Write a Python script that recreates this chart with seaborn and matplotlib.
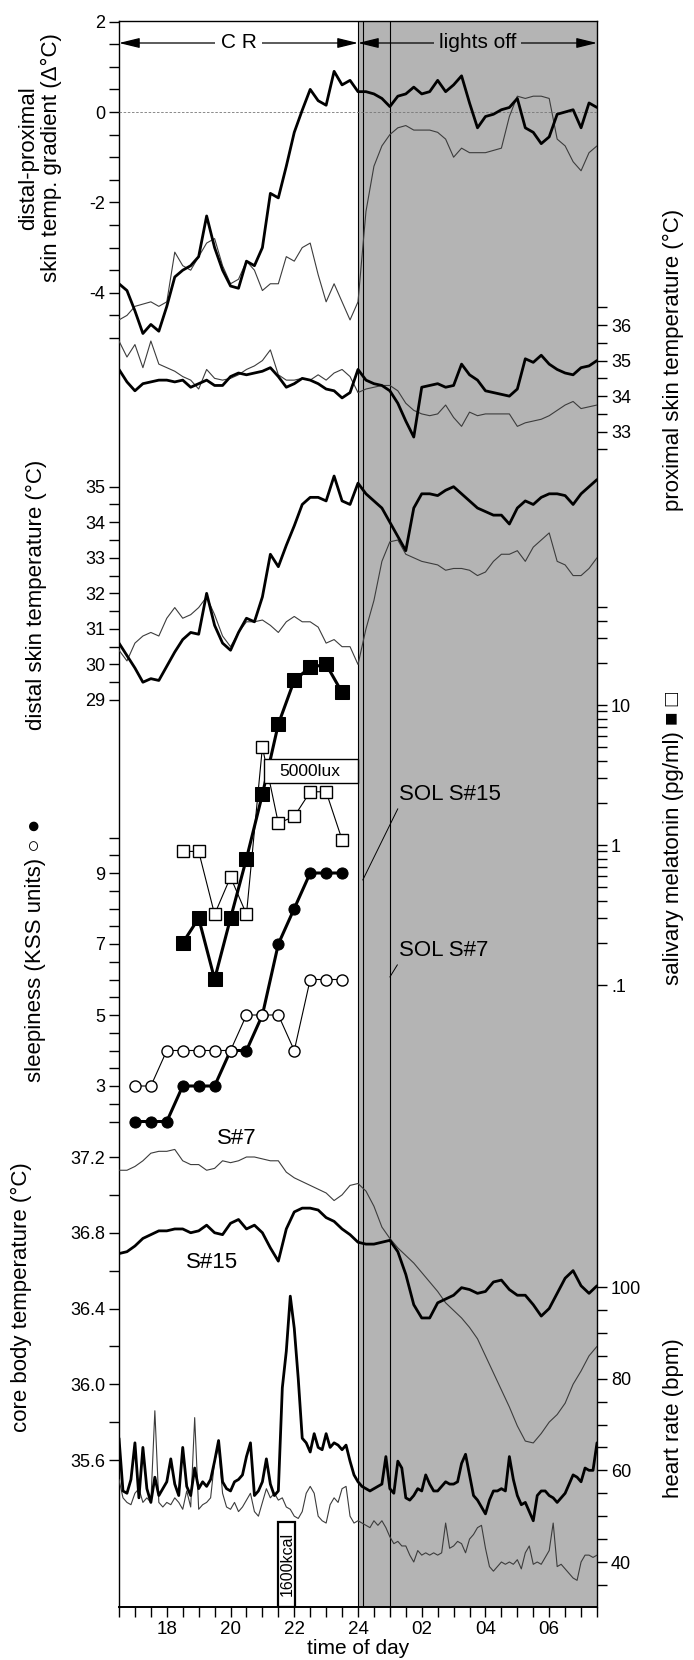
import numpy as np
import matplotlib
matplotlib.use("Agg")
import matplotlib.pyplot as plt
import seaborn as sns
from matplotlib import font_manager
from matplotlib.patches import Rectangle
from matplotlib.ticker import NullFormatter

# ---------------------------------------------------------------- data
# sampling grids (hours after midnight of day 1; 24 = midnight, 30 = 06:00)
hours = np.arange(61) * 0.25 + 16.5
hours_hr = np.arange(121) * 0.125 + 16.5

tick_hours = [18, 20, 22, 24, 26, 28, 30]
tick_labels = ["18", "20", "22", "24", "02", "04", "06"]

# distal-proximal skin temperature gradient (delta degC)
grad_s15 = [-3.8, -3.95,
            -4.4, -4.9, -4.7, -4.85,
            -4.3, -3.65, -3.5, -3.4,
            -3.2, -2.3, -3.0, -3.5,
            -3.85, -3.9, -3.3, -3.4,
            -3.0, -1.8, -1.9, -1.2,
            -0.45, 0.04, 0.5, 0.25,
            0.15, 0.9, 0.6, 0.7,
            0.45, 0.45, 0.4, 0.3,
            0.12, 0.35, 0.4, 0.55,
            0.4, 0.45, 0.7, 0.45,
            0.6, 0.8, 0.2, -0.35,
            -0.1, -0.05, 0.05, 0.1,
            0.3, -0.35, -0.45, -0.7,
            -0.55, -0.05, 0.0, 0.05,
            -0.35, 0.2, 0.1]
grad_s7 = [-4.6, -4.5,
           -4.3, -4.25, -4.2, -4.3,
           -4.2, -3.1, -3.4, -3.5,
           -3.2, -2.9, -2.8, -3.4,
           -3.8, -3.7, -3.3, -3.5,
           -3.95, -3.8, -3.8, -3.2,
           -3.3, -3.0, -2.9, -3.6,
           -4.2, -3.8, -4.2, -4.6,
           -4.2, -2.2, -1.2, -0.75,
           -0.5, -0.35, -0.3, -0.4,
           -0.4, -0.4, -0.45, -0.6,
           -1.0, -0.8, -0.9, -0.9,
           -0.9, -0.85, -0.8, -0.1,
           0.35, 0.3, 0.35, 0.35,
           0.3, -0.6, -0.75, -1.1,
           -1.3, -0.9, -0.75]

# proximal skin temperature (degC)
prox_s15 = [34.75, 34.4,
            34.15, 34.35, 34.4, 34.45,
            34.45, 34.4, 34.45, 34.25,
            34.35, 34.45, 34.3, 34.3,
            34.55, 34.65, 34.6, 34.65,
            34.7, 34.8, 34.55, 34.25,
            34.35, 34.5, 34.45, 34.35,
            34.2, 34.15, 33.95, 34.1,
            34.75, 34.45, 34.35, 34.3,
            34.15, 33.8, 33.3, 32.85,
            34.25, 34.3, 34.35, 34.25,
            34.3, 34.9, 34.6, 34.45,
            34.15, 34.1, 34.05, 34.0,
            34.2, 35.05, 34.95, 35.15,
            34.9, 34.75, 34.65, 34.6,
            34.8, 34.85, 35.0]
prox_s7 = [35.55, 35.1,
           35.45, 34.8, 35.55, 34.9,
           34.8, 34.7, 34.55, 34.45,
           34.2, 34.75, 34.5, 34.45,
           34.5, 34.6, 34.75, 34.85,
           35.0, 35.3, 34.6, 34.45,
           34.45, 34.5, 34.45, 34.6,
           34.45, 34.65, 34.75, 34.55,
           34.1, 34.2, 34.25, 34.3,
           34.3, 34.15, 33.8, 33.6,
           33.5, 33.45, 33.5, 33.75,
           33.4, 33.15, 33.55, 33.45,
           33.5, 33.5, 33.5, 33.5,
           33.15, 33.25, 33.3, 33.35,
           33.45, 33.6, 33.75, 33.85,
           33.65, 33.7, 33.75]

# distal skin temperature (degC)
distal_s15 = [30.6, 30.25,
              29.9, 29.5, 29.6, 29.55,
              29.95, 30.35, 30.7, 30.9,
              30.85, 32.0, 31.1, 30.6,
              30.4, 30.9, 31.3, 31.2,
              31.9, 33.1, 32.75, 33.35,
              33.9, 34.5, 34.7, 34.7,
              34.6, 35.3, 34.6, 34.5,
              35.1, 34.8, 34.6, 34.4,
              34.0, 33.6, 33.2, 34.4,
              34.8, 34.8, 34.75, 34.9,
              35.0, 34.8, 34.6, 34.4,
              34.3, 34.2, 34.2, 33.95,
              34.4, 34.6, 34.5, 34.7,
              34.8, 34.8, 34.75, 34.5,
              34.8, 35.0, 35.2]
distal_s7 = [30.4, 30.1,
             30.6, 30.8, 30.9, 30.8,
             31.3, 31.6, 31.3, 31.4,
             31.6, 31.9, 31.4, 30.8,
             30.5, 30.9, 31.2, 31.2,
             31.25, 31.1, 30.9, 31.2,
             31.35, 31.2, 31.2, 31.05,
             30.6, 30.7, 30.5, 30.5,
             30.0, 31.0, 31.8, 32.9,
             33.45, 33.5, 33.1, 33.0,
             32.9, 32.85, 32.8, 32.65,
             32.7, 32.7, 32.65, 32.5,
             32.6, 32.9, 33.1, 33.1,
             33.2, 32.9, 33.3, 33.5,
             33.7, 32.9, 32.8, 32.5,
             32.5, 32.7, 33.0]

# salivary melatonin (pg/ml)
mel_times = [18.5, 19.0, 19.5, 20.0, 20.5, 21.0, 21.5, 22.0, 22.5, 23.0, 23.5]
mel_s15 = [0.2, 0.3, 0.11, 0.3, 0.8, 2.3, 7.3, 15.0, 18.6, 19.5, 12.3]
mel_s7 = [0.9, 0.9, 0.32, 0.59, 0.32, 5.0, 1.43, 1.6, 2.4, 2.4, 1.09]

# sleepiness (KSS units)
kss_times = [17.0, 17.5, 18.0, 18.5, 19.0, 19.5, 20.0, 20.5, 21.0, 21.5, 22.0, 22.5, 23.0, 23.5]
kss_s15 = [2, 2, 2, 3, 3, 3, 4, 4, 5, 7, 8, 9, 9, 9]
kss_s7 = [3, 3, 4, 4, 4, 4, 4, 5, 5, 5, 4, 6, 6, 6]

# core body temperature (degC)
core_s15 = [36.69, 36.7,
            36.73, 36.77, 36.79, 36.81,
            36.81, 36.82, 36.82, 36.8,
            36.81, 36.84, 36.8, 36.79,
            36.85, 36.87, 36.82, 36.84,
            36.8, 36.72, 36.65, 36.82,
            36.91, 36.93, 36.93, 36.92,
            36.88, 36.86, 36.82, 36.79,
            36.75, 36.74, 36.74, 36.75,
            36.76, 36.7, 36.58, 36.42,
            36.35, 36.35, 36.43, 36.45,
            36.47, 36.51, 36.5, 36.48,
            36.49, 36.54, 36.55, 36.5,
            36.47, 36.47, 36.42, 36.36,
            36.4, 36.48, 36.56, 36.6,
            36.52, 36.48, 36.52]
core_s7 = [37.13, 37.13,
           37.15, 37.18, 37.22, 37.23,
           37.23, 37.24, 37.18, 37.16,
           37.16, 37.13, 37.14, 37.18,
           37.17, 37.18, 37.2, 37.2,
           37.19, 37.18, 37.18, 37.12,
           37.09, 37.07, 37.05, 37.03,
           37.01, 36.97, 37.0, 37.05,
           37.06, 37.02, 36.94, 36.83,
           36.77, 36.72, 36.68, 36.64,
           36.59, 36.54, 36.49, 36.43,
           36.39, 36.35, 36.3, 36.24,
           36.15, 36.06, 35.97, 35.88,
           35.78, 35.7, 35.69, 35.74,
           35.8, 35.84, 35.9, 36.0,
           36.07, 36.15, 36.2]

# heart rate (bpm), 7.5-min grid
hr_s15 = [67, 55.5, 55, 58, 66, 54, 65, 56, 53, 58.5,
          54.5, 56, 57.5, 62.5, 57, 54.5, 65, 56.5, 54.5, 60.5,
          56, 57.5, 56.5, 58, 62, 66.5, 57.5, 56, 55.5, 57.5,
          58, 59, 63, 66, 54.5, 55.5, 57.5, 62.5, 57, 54.5,
          55.5, 78, 86, 98, 91, 80, 67, 66, 64, 68,
          65, 64.5, 68, 65, 66, 65.5, 64.5, 65.5, 62, 59,
          57.5, 56.5, 56, 55.5, 56, 56.5, 57, 63, 56, 55,
          62, 60.5, 54, 53.5, 54.5, 56, 55.5, 59, 57, 55.5,
          55.5, 56.5, 57.5, 57, 57, 57.5, 61.5, 63.5, 59, 54.5,
          53.5, 52, 50.5, 53.5, 55.5, 55.5, 56, 55.5, 63, 58,
          54.5, 52.5, 53, 51, 49, 54.5, 55.5, 55.5, 54.5, 54,
          53, 54, 55, 57, 59, 58.5, 57.5, 60.5, 60, 60,
          66]
hr_s7 = [58, 54, 53, 52.5, 55, 56, 53, 54, 53, 73,
         53, 52, 53, 52.5, 54, 53, 51.5, 55.5, 52, 71.5,
         51.5, 52.5, 53, 54, 62, 65, 55, 52, 51.5, 53,
         51, 52, 53.5, 55, 51, 50, 53, 56, 54, 55,
         53.5, 54, 52, 51.5, 50, 49.5, 51, 55, 56.5, 55,
         50, 49, 48.5, 52.5, 54, 53, 56, 56.5, 50, 48.5,
         49, 48.5, 48, 47.5, 49, 48, 49, 47.5, 45.5, 44,
         44.5, 43.5, 43.5, 41.5, 40, 42.5, 41.5, 42, 41.5, 42,
         41.5, 42, 48.5, 43, 43.5, 44.5, 44, 42, 45, 46,
         47.5, 48, 43, 39, 38, 39, 40, 39.5, 40, 39.5,
         40.5, 38.5, 42, 43.5, 39.5, 40, 39.5, 41, 42.5, 48.5,
         39, 39.5, 38.5, 37.5, 36.5, 36, 40, 41.5, 41.5, 41,
         41.5]

# ---------------------------------------------------------------- style
sns.set_theme(style="white")
avail = {f.name for f in font_manager.fontManager.ttflist}
main_font = "Liberation Sans" if "Liberation Sans" in avail else "DejaVu Sans"
plt.rcParams["font.family"] = [main_font, "DejaVu Sans"]
plt.rcParams.update({"text.color": "black", "axes.labelcolor": "black",
                     "xtick.color": "black", "ytick.color": "black"})

SHADE = "#b4b4b4"
THIN = "#3c3c3c"
FW, FH = 694, 1660
L, R, T, B = 119, 597, 21, 1607
RECT = [L / FW, 1 - B / FH, (R - L) / FW, (B - T) / FH]
X0, X1 = 16.5, 31.5
TICK_FS = 13
LAB_FS = 16


def lin_lims(v1, p1, v2, p2):
    k = (v2 - v1) / (p2 - p1)
    return v1 + (B - p1) * k, v1 + (T - p1) * k


def yfrac(p):
    return (B - p) / (B - T)


fig = plt.figure(figsize=(FW / 100, FH / 100), dpi=100)
fig.patch.set_facecolor("white")

ax0 = fig.add_axes(RECT)
ax0.set_xlim(X0, X1)
ax0.set_ylim(0, 1)
ax0.set_facecolor("white")
ax0.grid(False)
ax0.axvspan(24.0, X1, color=SHADE, lw=0, zorder=0)
for xv in (24.0, 24.15, 25.0):
    ax0.axvline(xv, color="black", lw=0.8, zorder=1)
for s in ax0.spines.values():
    s.set_visible(True)
    s.set_color("black")
    s.set_linewidth(1.0)
ax0.spines["bottom"].set_linewidth(1.4)
ax0.set_xticks(tick_hours, tick_labels)
ax0.set_xticks(np.arange(16.5, 31.51, 0.5), minor=True)
ax0.tick_params(axis="x", which="both", direction="out", length=7, width=1,
                bottom=True, top=False, labelsize=TICK_FS + 0.5, pad=3)
ax0.tick_params(axis="y", which="both", left=False, right=False,
                labelleft=False, labelright=False)


def panel(ylim, side, majors, labels, minors, log=False):
    ax = fig.add_axes(RECT)
    ax.patch.set_visible(False)
    for s in ax.spines.values():
        s.set_visible(False)
    if log:
        ax.set_yscale("log")
    ax.set_xlim(X0, X1)
    ax.set_ylim(*ylim)
    ax.set_xticks([])
    ax.set_yticks(majors, labels)
    ax.set_yticks(minors, minor=True)
    ax.yaxis.set_minor_formatter(NullFormatter())
    left = side == "left"
    ax.tick_params(axis="y", which="both", direction="out", length=7, width=1,
                   left=left, labelleft=left, right=not left, labelright=not left,
                   labelsize=TICK_FS, pad=3)
    ax.grid(False)
    return ax


def trace(ax, x, y, thick):
    sns.lineplot(x=x, y=y, ax=ax, color="black" if thick else THIN,
                 linewidth=2.0 if thick else 0.8, estimator=None, sort=False,
                 legend=False)


# gradient panel
ax_g = panel(lin_lims(0, 112, -4, 292.8), "left", [2, 0, -2, -4], ["2", "0", "-2", "-4"],
             list(np.arange(-5, 2.01, 0.5)))
ax_g.axhline(0, color="#777777", lw=0.6, ls=(0, (3, 2)), zorder=1)
trace(ax_g, hours, grad_s7, False)
trace(ax_g, hours, grad_s15, True)

# proximal panel
ax_p = panel(lin_lims(36, 325, 33, 431.7), "right", [36, 35, 34, 33], ["36", "35", "34", "33"],
             list(np.arange(32.5, 36.51, 0.5)))
trace(ax_p, hours, prox_s7, False)
trace(ax_p, hours, prox_s15, True)

# distal panel
ax_d = panel(lin_lims(35, 486.7, 29, 700), "left", [35, 34, 33, 32, 31, 30, 29],
             ["35", "34", "33", "32", "31", "30", "29"], list(np.arange(29, 35.01, 0.5)))
trace(ax_d, hours, distal_s7, False)
trace(ax_d, hours, distal_s15, True)

# melatonin panel (log)
lo, hi = lin_lims(0, 845, -1, 985)
mel_minor = [0.2, 0.3, 0.4, 0.5, 0.6, 0.7, 0.8, 0.9, 2, 3, 4, 5, 6, 7, 8, 9, 20, 30, 40, 50]
ax_m = panel((10 ** lo, 10 ** hi), "right", [10, 1, 0.1], ["10", "1", ".1"], mel_minor, log=True)
sns.lineplot(x=mel_times, y=mel_s15, ax=ax_m, color="black", linewidth=2.2, marker="s",
             markersize=10, markerfacecolor="black", markeredgecolor="black",
             estimator=None, sort=False, legend=False)
sns.lineplot(x=mel_times, y=mel_s7, ax=ax_m, color="black", linewidth=0.8, marker="s",
             markersize=9, markerfacecolor="white", markeredgecolor="black", mew=1.0,
             estimator=None, sort=False, legend=False)

# sleepiness panel
ax_s = panel(lin_lims(9, 873, 3, 1086), "left", [9, 7, 5, 3], ["9", "7", "5", "3"],
             list(np.arange(2, 10.01, 0.5)))
sns.lineplot(x=kss_times, y=kss_s15, ax=ax_s, color="black", linewidth=2.2, marker="o",
             markersize=8, markerfacecolor="black", markeredgecolor="black",
             estimator=None, sort=False, legend=False)
sns.lineplot(x=kss_times, y=kss_s7, ax=ax_s, color="black", linewidth=0.8, marker="o",
             markersize=8, markerfacecolor="white", markeredgecolor="black", mew=1.0,
             estimator=None, sort=False, legend=False)

# core body temperature panel
ax_c = panel(lin_lims(37.2, 1157, 35.6, 1460), "left", [37.2, 36.8, 36.4, 36.0, 35.6],
             ["37.2", "36.8", "36.4", "36.0", "35.6"], list(np.arange(35.6, 37.21, 0.2)))
trace(ax_c, hours, core_s7, False)
trace(ax_c, hours, core_s15, True)

# heart rate panel
ax_h = panel(lin_lims(100, 1287, 40, 1562), "right", [100, 80, 60, 40], ["100", "80", "60", "40"],
             list(np.arange(35, 100.1, 5)))
trace(ax_h, hours_hr, hr_s7, False)
trace(ax_h, hours_hr, hr_s15, True)

# ---------------------------------------------------------------- annotations
axo = fig.add_axes(RECT)
axo.set_xlim(X0, X1)
axo.set_ylim(0, 1)
axo.axis("off")

yC = yfrac(43)
arrow = dict(arrowstyle="<|-|>,head_length=0.9,head_width=0.22", color="black",
             lw=0.9, shrinkA=0, shrinkB=0, mutation_scale=14)
axo.annotate("", xy=(X0, yC), xytext=(24.0, yC), arrowprops=arrow)
axo.annotate("", xy=(24.0, yC), xytext=(X1, yC), arrowprops=arrow)
axo.text(20.25, yC, "C R", ha="center", va="center", fontsize=15,
         bbox=dict(boxstyle="square,pad=0.25", fc="white", ec="none"))
axo.text(27.75, yC, "lights off", ha="center", va="center", fontsize=15,
         bbox=dict(boxstyle="square,pad=0.25", fc=SHADE, ec="none"))

axo.add_patch(Rectangle((21.06, yfrac(783)), 24.0 - 21.06, yfrac(759) - yfrac(783),
                        fc="white", ec="black", lw=1.0, zorder=3))
axo.text(22.5, yfrac(771), "5000lux", ha="center", va="center", fontsize=12.5, zorder=4)

axo.add_patch(Rectangle((21.5, 0), 0.53, yfrac(1522), fc="white", ec="black", lw=1.6, zorder=3))
axo.text(21.765, yfrac(1564), "1600kcal", ha="center", va="center", rotation=90,
         fontsize=11.5, zorder=4)

line = dict(arrowstyle="-", color="black", lw=0.7, shrinkA=0, shrinkB=0, relpos=(0.0, 0.0))
axo.annotate("SOL S#15", xy=(24.15, yfrac(880)), xytext=(25.3, yfrac(795)),
             ha="left", va="center", fontsize=16, arrowprops=line)
axo.annotate("SOL S#7", xy=(25.0, yfrac(977)), xytext=(25.3, yfrac(951)),
             ha="left", va="center", fontsize=16, arrowprops=line)
axo.text(20.2, yfrac(1138), "S#7", ha="center", va="center", fontsize=16)
axo.text(19.43, yfrac(1262), "S#15", ha="center", va="center", fontsize=16)

# axis titles
def vlabel(x, p, s):
    fig.text(x / FW, 1 - p / FH, s, rotation=90, ha="center", va="center",
             fontsize=LAB_FS, linespacing=1.1, multialignment="center")


vlabel(40, 158, "distal-proximal\nskin temp. gradient (\u0394\u00b0C)")
vlabel(36, 595, "distal skin temperature (\u00b0C)")
vlabel(36, 950, "sleepiness (KSS units) \u25cb \u25cf")
vlabel(21, 1297, "core body temperature (\u00b0C)")
vlabel(673, 360, "proximal skin temperature (\u00b0C)")
vlabel(673, 838, "salivary melatonin (pg/ml) \u25a0 \u25a1")
vlabel(673, 1418, "heart rate (bpm)")
fig.text(358 / FW, 1 - 1648 / FH, "time of day", ha="center", va="center", fontsize=15)

fig.savefig("out.png", dpi=100, facecolor="white")
